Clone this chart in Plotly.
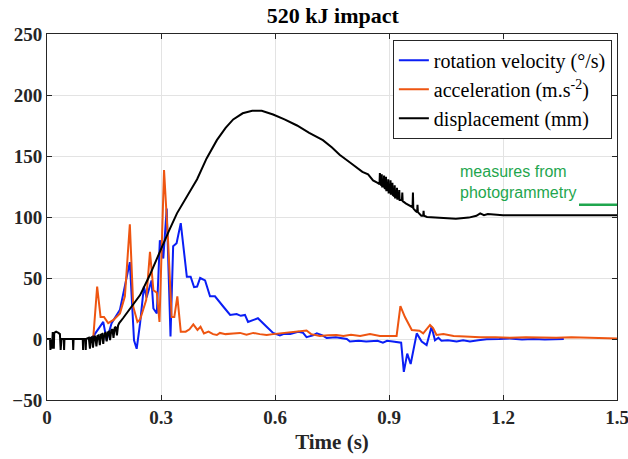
import plotly.graph_objects as go

# ---------------- data ----------------
# rotation velocity (deg/s)
rot_t = [0.118, 0.131, 0.148, 0.157, 0.170, 0.192, 0.208, 0.218, 0.229, 0.236, 0.245, 0.255,
         0.262, 0.275, 0.280, 0.289, 0.297, 0.306, 0.315, 0.325, 0.332, 0.341, 0.352, 0.368,
         0.378, 0.387, 0.395, 0.403, 0.416, 0.429, 0.442, 0.455, 0.468, 0.482, 0.499, 0.510,
         0.521, 0.529, 0.543, 0.555, 0.578, 0.595, 0.613, 0.622, 0.640, 0.661, 0.674, 0.683,
         0.700, 0.710, 0.725, 0.736, 0.760, 0.775, 0.789, 0.797, 0.820, 0.840, 0.858, 0.870,
         0.884, 0.895, 0.910, 0.926, 0.932, 0.939, 0.948, 0.957, 0.973, 0.986, 0.999, 1.012,
         1.021, 1.030, 1.038, 1.055, 1.078, 1.095, 1.113, 1.135, 1.157, 1.190, 1.218, 1.250,
         1.280, 1.310, 1.340, 1.360]
rot_v = [0.5, 6, 14, -1, 13, 24, 47, 63, -1, -8, 13, 43,
         34, 48, 25, 21, 81, 66, 107, 2, 76, 78.5, 95, 51,
         51, 42.5, 43, 50, 48, 35, 35, 29.5, 25, 19.7, 20.5, 19,
         19.7, 14, 15.6, 17, 10, 5, 3, 4, 4, 6, 5, 1.5,
         3, 4.6, 3, 0.8, 1.5, 1, 0, -2, -1.5, -2, -2, -1.5,
         -3, -1.5, -2, -2.5, -3, -27, -12, -20.5, 4.6, -2, -5, 10,
         -1, 1, -1.4, -1, -2, -1, -2, -1, -0.3, 0, 0.5, -0.5,
         0, -0.5, 0, 0]

# acceleration (m.s-2)
acc_t = [0.122, 0.132, 0.141, 0.150, 0.161, 0.175, 0.192, 0.205, 0.218, 0.227, 0.238, 0.245,
         0.261, 0.271, 0.280, 0.289, 0.296, 0.308, 0.319, 0.328, 0.335, 0.343, 0.352, 0.365,
         0.375, 0.385, 0.396, 0.404, 0.413, 0.425, 0.437, 0.447, 0.455, 0.470, 0.490, 0.508,
         0.525, 0.543, 0.560, 0.578, 0.595, 0.613, 0.640, 0.661, 0.683, 0.695, 0.718, 0.740,
         0.762, 0.780, 0.800, 0.824, 0.850, 0.876, 0.900, 0.920, 0.930, 0.942, 0.960, 0.980,
         0.990, 1.008, 1.016, 1.025, 1.043, 1.070, 1.100, 1.140, 1.180, 1.218, 1.260, 1.300,
         1.340, 1.380, 1.420, 1.460, 1.500]
acc_v = [2, 43, 18, 18, 13, 15.6, 21, 35, 94, 26.5, 14, 16,
         32, 71.5, 40, 38, 14, 138.5, 78, 18, 18, 35, 6, 6,
         8, 12, 7.4, 10, 4.6, 6, 4, 3.3, 5, 4, 4.5, 5,
         3.5, 5, 4, 3.3, 4, 4.6, 5, 6, 7, 4, 2.5, 3,
         3.3, 2.5, 3.5, 2.5, 4, 2.5, 2.5, 2.5, 27, 18, 7.4, 6.8,
         4.6, 11.5, 9, 3.3, 4, 2.5, 2, 1.4, 1.5, 1, 1.5, 1,
         1, 1.5, 1, 0.8, 0.5]

# displacement (mm)
disp_t = [0.000, 0.008, 0.009, 0.011, 0.013, 0.015, 0.017, 0.018, 0.019, 0.024, 0.030, 0.034,
          0.036, 0.037, 0.038, 0.044, 0.045, 0.046, 0.068, 0.069, 0.070, 0.094, 0.095, 0.096,
          0.101, 0.102, 0.103, 0.110, 0.113, 0.115, 0.118, 0.121, 0.124, 0.127, 0.130, 0.133,
          0.136, 0.139, 0.142, 0.145, 0.148, 0.151, 0.154, 0.157, 0.160, 0.163, 0.166, 0.169,
          0.172, 0.175, 0.178, 0.181, 0.184, 0.187, 0.190, 0.200, 0.220, 0.245, 0.270, 0.297,
          0.320, 0.342, 0.370, 0.395, 0.420, 0.447, 0.470, 0.490, 0.515, 0.540, 0.565, 0.580,
          0.595, 0.625, 0.658, 0.690, 0.726, 0.750, 0.770, 0.800, 0.830, 0.845, 0.858, 0.870,
          0.875, 0.876, 0.877, 0.880, 0.881, 0.882, 0.886, 0.887, 0.888, 0.891, 0.892, 0.893,
          0.897, 0.898, 0.899, 0.903, 0.904, 0.905, 0.908, 0.909, 0.910, 0.914, 0.915, 0.916,
          0.920, 0.921, 0.922, 0.926, 0.927, 0.928, 0.934, 0.935, 0.936, 0.945, 0.955, 0.962,
          0.963, 0.964, 0.970, 0.974, 0.975, 0.976, 0.985, 0.990, 0.991, 0.992, 1.000, 1.030,
          1.076, 1.110, 1.130, 1.140, 1.150, 1.160, 1.200, 1.300, 1.400, 1.500]
disp_v = [0, 0, -9, 0, -8, 5, 5, -8, 5, 6, 5, 4,
          -9, 0, 0, 0, -9, 0, 0, -9, 0, 0, -9, 0,
          0, -9, 0, 1, -8, 1, 1.5, -7, 2, 2, -6, 2.5,
          3, -5, 3.5, 4, -4, 4.5, 5, -2, 5.5, 6, -1, 7,
          8, 1, 9, 10, 3, 11, 13, 17, 25, 36, 52, 72,
          88, 103, 118, 131, 148, 163, 173, 180, 185, 187, 187, 185.5,
          184, 180, 175, 169, 163, 157, 151, 144, 137, 135, 130, 128,
          127, 136, 127, 126, 135, 125, 125, 134, 124, 123, 133, 122,
          122, 131, 120, 120, 130, 119, 119, 128, 118, 117, 126, 116,
          116, 124, 115, 115, 122, 114, 114, 120, 113, 111, 109, 108,
          120, 107, 105, 104, 110, 104, 101, 101, 105, 101, 100, 99.5,
          98.5, 99.5, 101, 103, 101.5, 102.5, 101.5, 101.5, 101.5, 101.5]

# photogrammetry measure
photo_t = [1.40, 1.50]
photo_v = [110, 110]

x_ticks = [0, 0.3, 0.6, 0.9, 1.2, 1.5]
x_tick_labels = ["0", "0.3", "0.6", "0.9", "1.2", "1.5"]
y_ticks = [-50, 0, 50, 100, 150, 200, 250]

BLUE = "#0A1EF5"
ORANGE = "#EE5511"
BLACK = "#000000"
GREEN = "#1FA64E"
SERIF = "Liberation Serif"

fig = go.Figure()
fig.add_trace(go.Scatter(x=rot_t, y=rot_v, mode="lines", name="rotation velocity (°/s)",
                         line=dict(color=BLUE, width=2)))
fig.add_trace(go.Scatter(x=acc_t, y=acc_v, mode="lines", name="acceleration (m.s<sup>-2</sup>)",
                         line=dict(color=ORANGE, width=2)))
fig.add_trace(go.Scatter(x=disp_t, y=disp_v, mode="lines", name="displacement (mm)",
                         line=dict(color=BLACK, width=2)))
fig.add_trace(go.Scatter(x=photo_t, y=photo_v, mode="lines", showlegend=False,
                         line=dict(color=GREEN, width=2.5)))

fig.add_annotation(x=1.082, y=128.5, xref="x", yref="y", xanchor="left", yanchor="middle",
                   text="measures from<br>photogrammetry", showarrow=False, align="left",
                   font=dict(family="Liberation Sans", size=16, color=GREEN))

axis_common = dict(showline=True, linecolor="#262626", linewidth=1, mirror="ticks",
                   ticks="inside", ticklen=5, tickcolor="#262626", showgrid=True,
                   gridcolor="#E3E3E3", gridwidth=1, zeroline=False, automargin=False,
                   tickfont=dict(family=SERIF, size=19, color="#262626", weight="bold"))

fig.update_layout(
    width=628, height=459,
    margin=dict(l=47, r=11, t=34, b=59),
    paper_bgcolor="white", plot_bgcolor="white",
    title=dict(text="<b>520 kJ impact</b>", x=0.53, xanchor="center", y=0.966, yanchor="middle",
               font=dict(family=SERIF, size=22, color="black")),
    xaxis=dict(range=[0, 1.5], tickvals=x_ticks, ticktext=x_tick_labels,
               ticklabeloverflow="allow",
               title=dict(text="<b>Time (s)</b>", standoff=7,
                          font=dict(family=SERIF, size=21, color="#262626")),
               **axis_common),
    yaxis=dict(range=[-50, 250], tickvals=y_ticks, **axis_common),
    legend=dict(x=0.991, y=0.984, xanchor="right", yanchor="top",
                bgcolor="white", bordercolor="#262626", borderwidth=1,
                font=dict(family=SERIF, size=20, color="black"),
                tracegroupgap=0, itemwidth=30),
    showlegend=True,
)

fig.write_html("out.html", config={"displayModeBar": False},
               post_script="document.body.style.margin='0';document.body.style.overflow='hidden';")
